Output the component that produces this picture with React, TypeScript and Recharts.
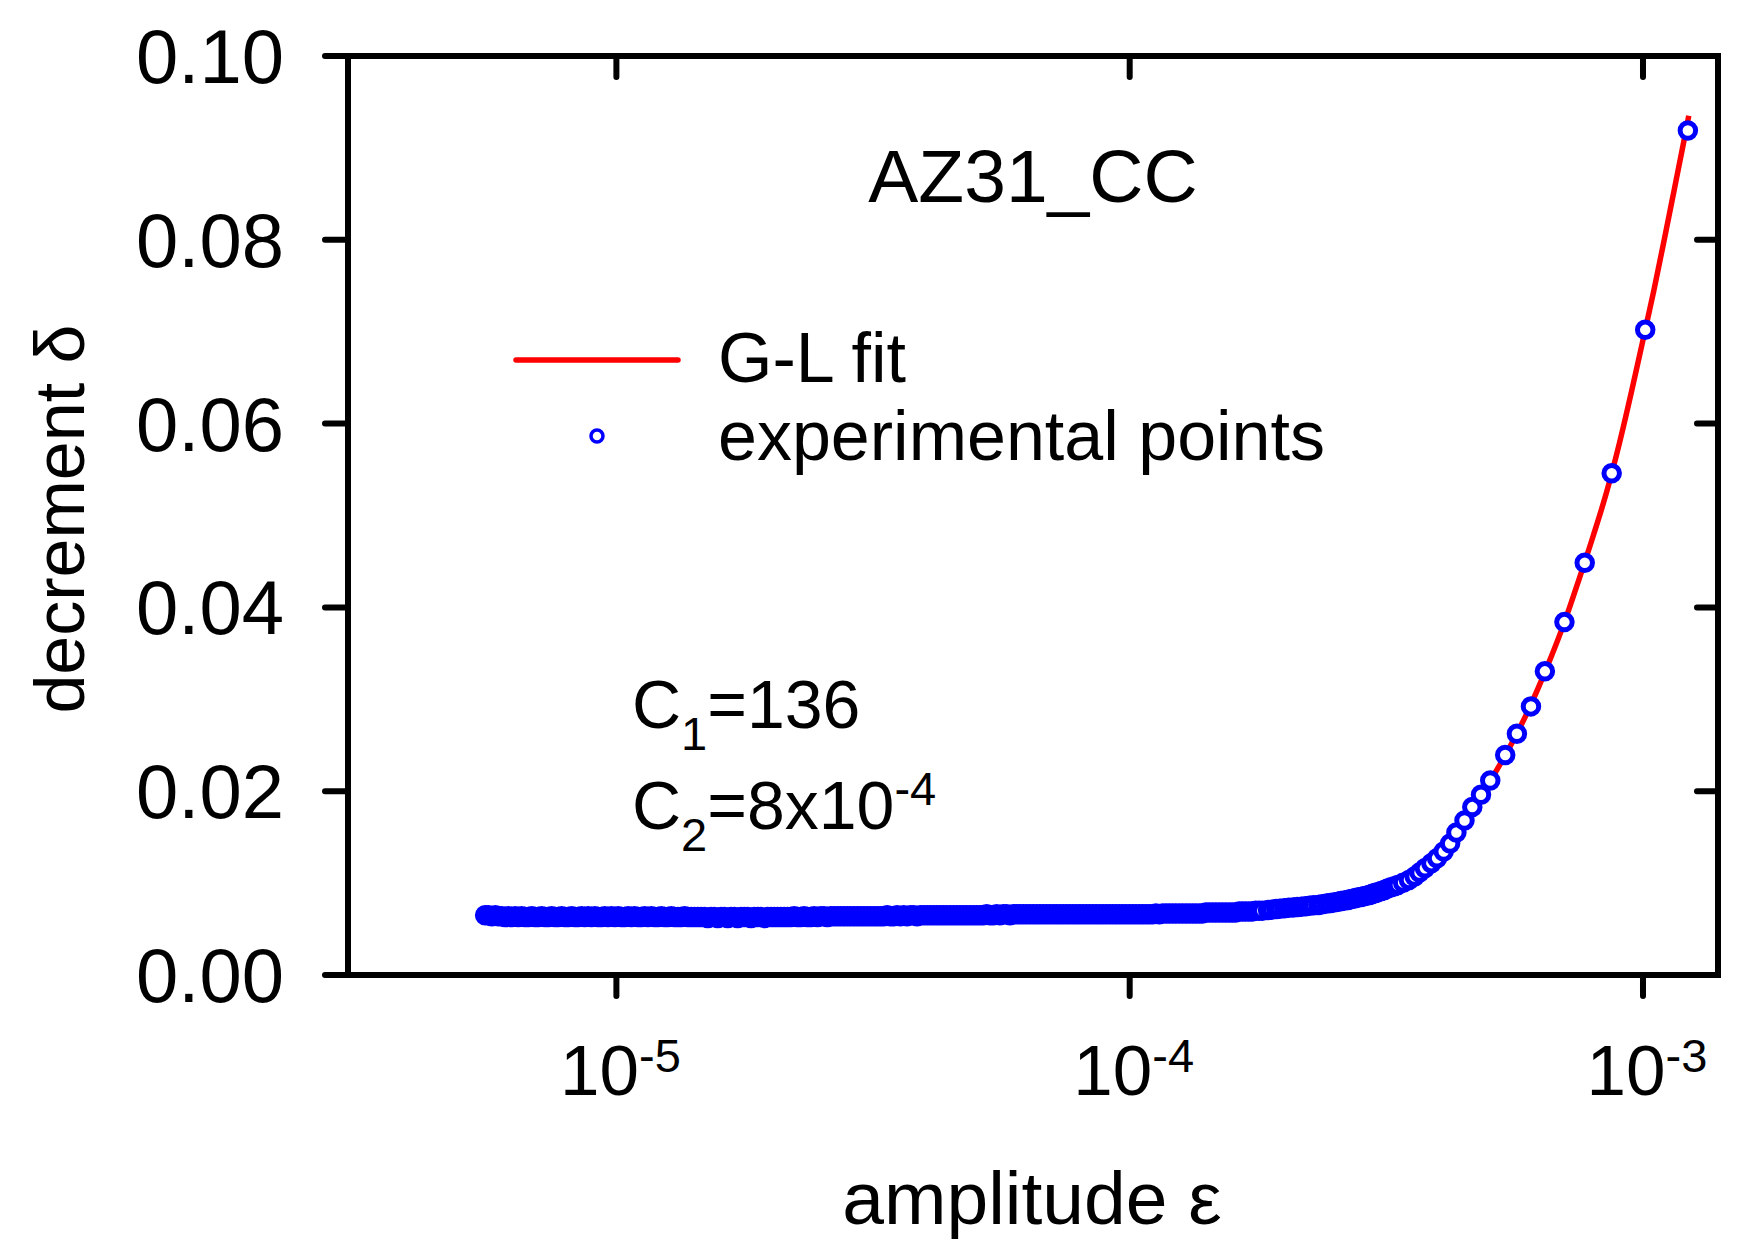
import React from 'react';
import { ComposedChart, Line, Scatter, XAxis, YAxis } from 'recharts';

// [amplitude x 1e-6, decrement x 1e-3]
const plateau = [
  [5.55, 6.5], [5.63, 6.5], [5.72, 6.4], [5.81, 6.5], [5.89, 6.4], [5.98, 6.4], [6.07, 6.3], [6.16, 6.4], [6.25, 6.3], [6.35, 6.4],
  [6.44, 6.3], [6.54, 6.4], [6.64, 6.3], [6.74, 6.3], [6.84, 6.4], [6.94, 6.3], [7.04, 6.3], [7.15, 6.4], [7.26, 6.3], [7.37, 6.3],
  [7.48, 6.4], [7.59, 6.3], [7.7, 6.3], [7.82, 6.4], [7.94, 6.3], [8.06, 6.3], [8.18, 6.4], [8.3, 6.3], [8.42, 6.3], [8.55, 6.4],
  [8.68, 6.3], [8.81, 6.4], [8.94, 6.3], [9.08, 6.4], [9.21, 6.3], [9.35, 6.3], [9.49, 6.4], [9.63, 6.3], [9.78, 6.4], [9.93, 6.3],
  [10.08, 6.4], [10.23, 6.3], [10.38, 6.3], [10.54, 6.4], [10.69, 6.3], [10.85, 6.4], [11.02, 6.3], [11.18, 6.3], [11.35, 6.4], [11.52, 6.3],
  [11.7, 6.4], [11.87, 6.3], [12.05, 6.3], [12.23, 6.4], [12.41, 6.3], [12.6, 6.3], [12.79, 6.4], [12.98, 6.3], [13.18, 6.3], [13.37, 6.3],
  [13.58, 6.4], [13.78, 6.3], [13.99, 6.3], [14.2, 6.3], [14.41, 6.3], [14.63, 6.3], [14.85, 6.3], [15.07, 6.2], [15.29, 6.3], [15.52, 6.3],
  [15.76, 6.2], [15.99, 6.3], [16.23, 6.3], [16.48, 6.2], [16.72, 6.3], [16.98, 6.3], [17.23, 6.2], [17.49, 6.3], [17.75, 6.3], [18.02, 6.3],
  [18.29, 6.2], [18.56, 6.3], [18.84, 6.3], [19.13, 6.3], [19.41, 6.2], [19.7, 6.3], [20.0, 6.3], [20.3, 6.3], [20.6, 6.3], [20.91, 6.3],
  [21.23, 6.3], [21.55, 6.3], [21.87, 6.3], [22.2, 6.4], [22.53, 6.3], [22.87, 6.3], [23.21, 6.4], [23.56, 6.3], [23.92, 6.3], [24.27, 6.4],
  [24.64, 6.3], [25.01, 6.4], [25.38, 6.4], [25.76, 6.3], [26.15, 6.4], [26.54, 6.4], [26.94, 6.4], [27.35, 6.4], [27.76, 6.4], [28.17, 6.4],
  [28.59, 6.4], [29.02, 6.4], [29.46, 6.4], [29.9, 6.4], [30.35, 6.4], [30.8, 6.4], [31.27, 6.4], [31.74, 6.4], [32.21, 6.4], [32.7, 6.4],
  [33.19, 6.4], [33.69, 6.5], [34.19, 6.4], [34.7, 6.4], [35.22, 6.5], [35.75, 6.4], [36.29, 6.5], [36.83, 6.4], [37.39, 6.5], [37.95, 6.5],
  [38.52, 6.4], [39.09, 6.5], [39.68, 6.5], [40.28, 6.5], [40.88, 6.5], [41.49, 6.5], [42.12, 6.5], [42.75, 6.5], [43.39, 6.5], [44.04, 6.5],
  [44.7, 6.5], [45.37, 6.5], [46.05, 6.5], [46.74, 6.5], [47.44, 6.5], [48.15, 6.5], [48.88, 6.5], [49.61, 6.5], [50.35, 6.5], [51.11, 6.5],
  [51.88, 6.5], [52.65, 6.6], [53.44, 6.5], [54.25, 6.5], [55.06, 6.6], [55.89, 6.5], [56.72, 6.6], [57.57, 6.6], [58.44, 6.5], [59.32, 6.6],
  [60.21, 6.6], [61.11, 6.6], [62.03, 6.6], [62.96, 6.6], [63.9, 6.6], [64.86, 6.6], [65.83, 6.6], [66.82, 6.6], [67.82, 6.6], [68.84, 6.6],
  [69.87, 6.6], [70.92, 6.6], [71.99, 6.6], [73.07, 6.6], [74.16, 6.6], [75.28, 6.6], [76.41, 6.6], [77.55, 6.6], [78.72, 6.6], [79.9, 6.6],
  [81.1, 6.6], [82.31, 6.6], [83.55, 6.6], [84.8, 6.6], [86.07, 6.6], [87.36, 6.6], [88.68, 6.6], [90.01, 6.6], [91.36, 6.6], [92.73, 6.6],
  [94.12, 6.6], [95.53, 6.6], [96.96, 6.6], [98.42, 6.6], [99.89, 6.6], [101.4, 6.6], [102.9, 6.6], [104.5, 6.6], [106.0, 6.6], [107.6, 6.6],
  [109.2, 6.6], [110.9, 6.6], [112.5, 6.7], [114.2, 6.6], [115.9, 6.7], [117.7, 6.7], [119.4, 6.7], [121.2, 6.7], [123.0, 6.7], [124.9, 6.7],
  [126.8, 6.7], [128.7, 6.7], [130.6, 6.7], [132.6, 6.7], [134.5, 6.7], [136.6, 6.7], [138.6, 6.7], [140.7, 6.8], [142.8, 6.8], [145.0, 6.8],
  [147.1, 6.8], [149.3, 6.8], [151.6, 6.8], [153.9, 6.8], [156.2, 6.8], [158.5, 6.8], [160.9, 6.8], [163.3, 6.9], [165.8, 6.9], [168.2, 6.9],
  [170.8, 6.9], [173.3, 6.9], [175.9, 7.0], [178.6, 7.0], [181.3, 7.0],
];
const knee = [
  [186, 7.08], [189, 7.11], [193, 7.17], [196, 7.21], [200, 7.27], [204, 7.31], [208, 7.35], [212, 7.4], [216, 7.44], [220, 7.49],
  [224, 7.53], [228, 7.58], [233, 7.63], [237, 7.7], [242, 7.77], [246, 7.84], [251, 7.92], [255, 7.98], [258, 8.04], [262, 8.1],
  [266, 8.17], [269, 8.23], [272, 8.3], [275, 8.36], [278, 8.42], [282, 8.49], [286, 8.56], [289, 8.63], [293, 8.71], [296, 8.79],
  [298, 8.86], [301, 8.93], [304, 9.01], [309, 9.13], [313.5, 9.26], [318, 9.4], [323, 9.55], [328, 9.67], [333, 9.8], [341, 10.05],
  [350, 10.35], [359, 10.71], [367, 11.14], [376, 11.62], [387, 12.17], [397, 12.71], [409, 13.43], [421, 14.3], [433, 15.5], [449, 16.81],
  [465, 18.27], [483.5, 19.61], [504, 21.16], [539, 23.93], [568, 26.25], [605, 29.23], [644, 33.04], [703, 38.4], [770, 44.85], [869, 54.6],
  [1010, 70.2], [1223, 91.9],
];
const fitAmp = [5.5, 20, 50, 100, 150, 200, 250, 300, 350, 400, 450, 500, 550, 600, 650, 700, 750, 800, 850, 900, 950, 1000, 1050, 1100, 1150, 1200, 1228];
const fitDec = [6.4, 6.3, 6.5, 6.6, 6.8, 7.25, 7.9, 8.9, 10.3, 12.9, 16.9, 20.8, 24.8, 29.0, 33.5, 38.1, 43.0, 47.8, 52.6, 57.9, 63.5, 69.1, 74.5, 80.0, 85.4, 90.6, 93.5];

const xTicks = [1e-5, 1e-4, 1e-3];
const yTicks = [0, 0.02, 0.04, 0.06, 0.08, 0.1];

const points = [...plateau, ...knee].map(([a, d]) => ({ x: a * 1e-6, y: d * 1e-3 }));
const fit = fitAmp.map((a, i) => ({ x: a * 1e-6, y: fitDec[i] * 1e-3 }));

const FONT = "'Liberation Sans', Arial, sans-serif";
const W = 1736;
const H = 1241;
const line = { stroke: '#000', strokeWidth: 6, strokeLinecap: 'square' as const };
const tickLine = { stroke: '#000', strokeWidth: 6, strokeLinecap: 'round' as const };

const XTick = ({ x, y, payload }: any) => (
  <text x={x + 4} y={y + 99} textAnchor="middle" fontSize={71} fontFamily={FONT} fill="#000">
    10<tspan dy={-23} fontSize={47}>{String(Math.round(Math.log10(payload.value)))}</tspan>
  </text>
);

const YTick = ({ x, y, payload }: any) => (
  <text x={x} y={y + 27} textAnchor="end" fontSize={76} fontFamily={FONT} fill="#000">
    {payload.value.toFixed(2)}
  </text>
);

// frame axes keep their tick marks but show no labels
const NoLabel = () => <g />;

const Circle = ({ cx, cy }: any) => (
  <circle cx={cx} cy={cy} r={7.75} fill="#fff" stroke="#0000ff" strokeWidth={5} />
);

export default function App() {
  return (
    <div style={{ position: 'relative', width: W, height: H }}>
      <ComposedChart width={W} height={H} margin={{ top: 48, right: 26, bottom: 14, left: 90 }}>
        <XAxis
          xAxisId="b" type="number" dataKey="x" scale="log" domain={[3e-6, 1.4e-3]} allowDataOverflow
          ticks={xTicks} tick={<XTick />} tickSize={21} tickMargin={0} height={260}
          axisLine={line} tickLine={tickLine} interval={0}
        />
        <XAxis
          xAxisId="t" orientation="top" type="number" dataKey="x" scale="log" domain={[3e-6, 1.4e-3]} allowDataOverflow
          ticks={xTicks} tick={<NoLabel />} mirror tickSize={21} height={1}
          axisLine={line} tickLine={tickLine} interval={0}
        />
        <YAxis
          yAxisId="l" type="number" domain={[0, 0.1]} ticks={yTicks} tick={<YTick />} tickSize={23} tickMargin={41}
          width={250} axisLine={line} tickLine={tickLine} interval={0}
        />
        <YAxis
          yAxisId="r" orientation="right" type="number" domain={[0, 0.1]} allowDataOverflow ticks={yTicks} tick={<NoLabel />} mirror
          tickSize={21} width={1} axisLine={line} tickLine={tickLine} interval={0}
        />
        {/* invisible series so the mirrored frame axes get a scale */}
        <Line
          xAxisId="t" yAxisId="r" data={fit} dataKey="y" stroke="none" dot={false} activeDot={false}
          isAnimationActive={false} legendType="none"
        />
        <Line
          xAxisId="b" yAxisId="l" data={fit} dataKey="y" type="monotone" stroke="#ff0000" strokeWidth={5.5}
          dot={false} activeDot={false} isAnimationActive={false}
        />
        <Scatter
          xAxisId="b" yAxisId="l" data={points} dataKey="y" shape={<Circle />} isAnimationActive={false}
        />
      </ComposedChart>
      <svg width={W} height={H} style={{ position: 'absolute', left: 0, top: 0, pointerEvents: 'none' }}>
        <g fontFamily={FONT} fill="#000">
          <text x={1025} y={194} textAnchor="middle" fontSize={75}>AZ31_CC</text>
          <line x1={508} y1={352} x2={670} y2={352} stroke="#ff0000" strokeWidth={5.5} strokeLinecap="round" />
          <text x={710} y={374} fontSize={70}>G-L fit</text>
          <circle cx={589} cy={428} r={6} fill="#fff" stroke="#0000ff" strokeWidth={3.5} />
          <text x={710} y={452} fontSize={70}>experimental points</text>
          <text x={624} y={720} fontSize={68}>
            C<tspan dy={22} fontSize={47}>1</tspan><tspan dy={-22}>=136</tspan>
          </text>
          <text x={624} y={821} fontSize={68}>
            C<tspan dy={22} fontSize={47}>2</tspan><tspan dy={-22}>=8x10</tspan><tspan dy={-24} fontSize={47}>-4</tspan>
          </text>
          <text x={1024} y={1216} textAnchor="middle" fontSize={75}>amplitude ε</text>
          <text x={76} y={511} textAnchor="middle" fontSize={70} transform="rotate(-90 76 511)">decrement δ</text>
        </g>
      </svg>
    </div>
  );
}
